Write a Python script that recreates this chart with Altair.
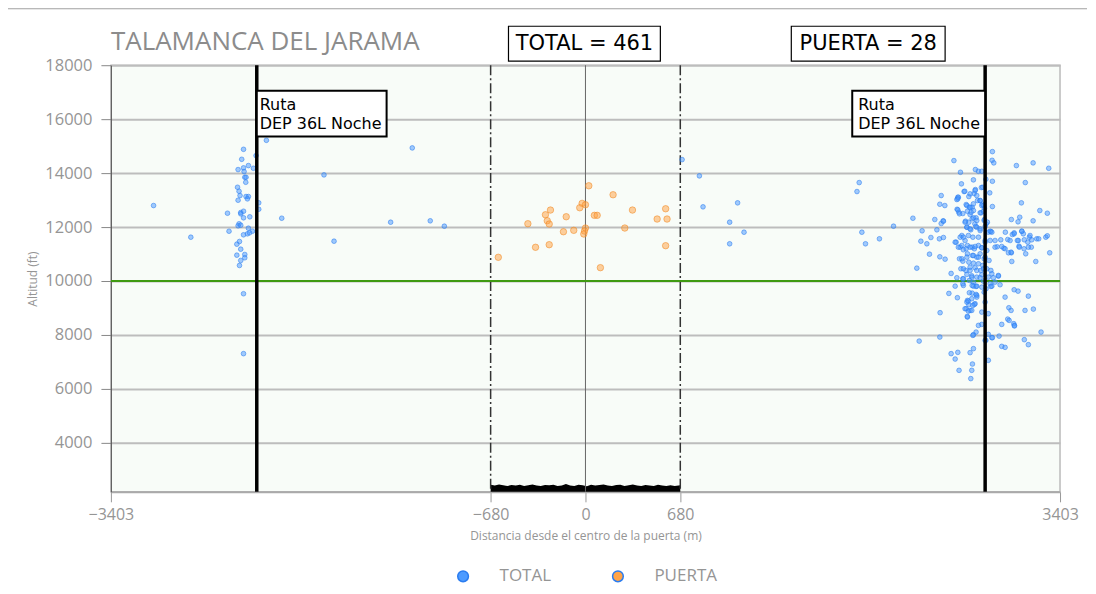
import altair as alt
import pandas as pd

# ---------------- data ----------------
TITLE = "TALAMANCA DEL JARAMA"
TOTAL_LABEL = "TOTAL = 461"
PUERTA_LABEL = "PUERTA = 28"
ROUTE_LABEL = "Ruta\nDEP 36L Noche"
X_TITLE = "Distancia desde el centro de la puerta (m)"
Y_TITLE = "Altitud (ft)"
SERIES = ["TOTAL", "PUERTA"]

x_domain = [-3403, 3403]
y_domain = [2180, 18000]
x_ticks = [-3403, -680, 0, 680, 3403]
y_ticks = [4000, 6000, 8000, 10000, 12000, 14000, 16000, 18000]

route_x = [-2357, 2866]
gate_x = [-680, 680]
center_x = [0]
level_y = [10000]

# blue "TOTAL" points (x in m, altitude in ft)
total_left = [
    (-3097, 12796), (-2830, 11622), (-2452, 14881), (-2465, 14511), (-2362, 14648), (-2288, 15215),
    (-2417, 14278), (-2381, 14178), (-2491, 14130), (-2452, 14193), (-2448, 14056), (-2443, 13844),
    (-2434, 13844), (-2436, 13659), (-2495, 13474), (-2484, 13326), (-2477, 13167), (-2434, 13130),
    (-2417, 13130), (-2491, 12993), (-2424, 13044), (-2343, 12896), (-2343, 12659), (-2567, 12511),
    (-2472, 12537), (-2452, 12585), (-2472, 12489), (-2452, 12341), (-2407, 12378), (-2178, 12326),
    (-2484, 12119), (-2491, 12044), (-2472, 12067), (-2417, 11956), (-2556, 11844), (-2388, 11844),
    (-2452, 11711), (-2424, 11748), (-2409, 11785), (-2481, 11463), (-2500, 11363), (-2472, 11178),
    (-2443, 10981), (-2500, 10956), (-2443, 10859), (-2472, 10759), (-2481, 10574), (-2452, 9526),
    (-2452, 7304), (-1875, 13933), (-1242, 14933), (-1803, 11474), (-1397, 12178), (-1113, 12230),
    (-1012, 12030),
]
total_right = [
    (693, 14500), (817, 13896), (843, 12748), (1091, 12896), (1034, 12178), (1137, 11807), (1034, 11378),
    (1963, 13648), (1947, 13315), (1982, 11807), (2008, 11378), (2108, 11563), (2209, 12030), (2348, 12326),
    (2376, 10474), (2393, 7770), (2414, 11859), (2405, 11474), (2448, 11378), (2467, 10993), (2477, 11611),
    (2505, 12278), (2520, 11896), (2543, 8822), (2541, 7919), (2538, 11563), (2567, 11611), (2541, 10896),
    (2579, 10807), (2551, 13167), (2541, 12844), (2577, 12796), (2565, 12230), (2551, 12130), (2606, 9537),
    (2622, 10278), (2651, 9807), (2622, 7304), (2651, 7104), (2670, 7352), (2679, 6685), (2642, 14463),
    (2689, 14030), (2696, 13600), (2715, 13315), (2670, 13104), (2663, 13019), (2749, 13130), (2782, 13748),
    (2796, 14130), (2818, 14067), (2842, 14067), (2871, 13770), (2918, 13696), (2918, 14796), (2916, 14474),
    (2928, 14378), (3090, 14278), (3210, 14378), (3322, 14178), (3154, 13648), (2899, 13267), (2839, 13463),
    (2796, 13389), (2787, 13241), (2811, 12981), (2830, 12981), (2846, 12844), (2753, 12733), (2730, 12833),
    (2773, 12733), (2665, 12659), (2677, 12548), (2706, 12500), (2739, 12585), (2758, 12463), (2782, 12611),
    (2837, 12526), (2854, 12796), (2918, 12759), (3126, 12896), (3258, 12611), (3312, 12511), (3210, 12230),
    (3102, 12193), (3114, 12363), (3054, 12278), (2725, 12215), (2749, 12178), (2773, 12304), (2801, 12341),
    (2792, 12119), (2859, 12241), (2873, 12119), (2735, 11993), (2763, 11896), (2806, 11993), (2830, 11870),
    (2907, 11833), (2937, 11500), (2978, 11526), (3011, 11807), (3028, 11537), (3061, 11722), (3074, 11785),
    (3104, 11500), (3129, 11844), (3140, 11748), (3172, 11437), (3183, 11622), (3236, 11563), (3250, 11563),
    (3301, 11622), (3312, 11674), (3329, 11044), (3229, 10722), (3157, 11007), (3197, 11252), (3109, 11289),
    (3054, 11044), (3033, 11044), (3057, 10722), (3000, 11215), (2952, 11267), (2937, 11252), (2902, 11500),
    (2889, 11807), (2866, 11437), (2699, 11685), (2722, 11500), (2658, 11437), (2687, 11252), (2710, 11156),
    (2739, 11315), (2773, 11252), (2789, 11193), (2818, 11315), (2842, 11230), (2878, 11130), (2739, 11007),
    (2775, 10944), (2806, 10881), (2830, 11007), (2859, 10822), (2894, 10759), (2682, 10822), (2706, 10733),
    (2749, 10696), (2782, 10659), (2818, 10637), (2849, 10574), (2907, 10389), (2692, 10452), (2728, 10389),
    (2758, 10389), (2794, 10489), (2835, 10389), (2878, 10452), (2735, 10241), (2770, 10193), (2806, 10141),
    (2842, 10230), (2889, 10141), (2925, 10119), (2961, 10178), (2706, 10081), (2753, 10019), (2782, 9956),
    (2854, 9993), (2902, 9896), (2937, 9956), (2973, 9859), (2801, 9796), (2773, 9548), (2806, 9463),
    (2739, 9278), (2770, 9341), (2794, 9156), (2749, 9119), (2730, 8970), (2758, 8907), (2739, 8659),
    (2667, 9378), (2842, 8844), (2889, 8785), (3009, 9400), (3074, 9674), (3102, 9622), (3176, 9437),
    (3036, 9007), (3052, 8907), (3152, 8907), (3212, 8956), (2985, 8389), (3028, 8585), (3038, 8537),
    (3071, 8415), (3076, 8352), (3267, 8104), (2801, 8104), (2782, 8007), (2842, 8389), (2889, 8019),
    (2914, 7896), (2871, 7796), (2966, 7956), (3147, 7822), (3176, 7637), (2985, 7574), (3009, 7537),
    (2758, 7341), (2782, 7489), (2889, 7056), (2775, 6919), (2770, 6685), (2763, 6378),
]
total_core = [
    (2849, 13474), (2720, 13326), (2794, 13352), (2758, 13230), (2674, 13104), (2670, 13044), (2806, 13167),
    (2830, 12981), (2735, 12796), (2758, 12733), (2782, 12859), (2842, 12796), (2861, 12696), (2670, 12637),
    (2682, 12489), (2765, 12548), (2830, 12526), (2854, 12585), (2567, 12215), (2722, 12178), (2782, 12341),
    (2806, 12241), (2861, 12278), (2882, 12178), (2735, 11993), (2758, 11933), (2799, 12019), (2830, 11933),
    (2866, 12019), (2902, 11844), (2914, 11807), (3074, 11748), (3129, 11844), (3188, 11685), (2651, 11437),
    (2687, 11622), (2710, 11622), (2746, 11685), (2778, 11622), (2818, 11622), (2866, 11500), (3045, 11500),
    (3097, 11500), (3147, 11526), (3200, 11526), (2674, 11252), (2699, 11315), (2730, 11193), (2758, 11252),
    (2794, 11278), (2842, 11230), (2985, 11278), (3009, 11193), (3052, 11067), (3111, 11252), (3145, 11193),
    (3176, 11252), (2699, 10822), (2735, 10881), (2782, 10944), (2818, 10881), (2866, 10881), (2710, 10452),
    (2758, 10511), (2806, 10389), (2854, 10452), (2914, 10267), (2961, 10204), (2663, 10119), (2710, 10081),
    (2770, 10141), (2830, 10119), (2710, 9833), (2782, 9807), (2842, 9770), (2914, 9807),
    (2706, 9896), (2773, 9833), (2806, 9807), (2907, 9796), (2753, 9563), (2801, 9500), (2806, 9400),
    (2746, 9252), (2735, 9215), (2789, 9130), (2778, 9093), (2722, 8970), (2746, 8881), (2770, 8907),
    (2738, 8685), (2866, 9215), (2859, 9585), (2873, 9711), (3076, 8330), (2818, 8352), (2778, 7981),
    (2918, 7896), (2866, 7796),
]

# orange "PUERTA" points
puerta_pts = [
    (24, 13529), (198, 13196), (-24, 12877), (0, 12826), (-41, 12714), (-251, 12629), (337, 12629),
    (575, 12677), (-287, 12455), (-138, 12381), (64, 12433), (84, 12433), (514, 12296), (585, 12296),
    (-274, 12233), (-413, 12122), (-260, 12111), (0, 11962), (282, 11962), (-7, 11851), (-84, 11877),
    (-158, 11825), (-12, 11740), (-260, 11344), (-358, 11248), (575, 11307), (-625, 10877), (107, 10492),
]

# black ground band between the gate limits
band_x = [-680, -650, -620, -590, -560, -530, -500, -470, -440, -410, -380, -350, -320, -290, -260,
          -230, -200, -170, -140, -110, -80, -50, -20, 10, 40, 70, 100, 130, 160, 190, 220, 250,
          280, 310, 340, 370, 400, 430, 460, 490, 520, 550, 580, 610, 640, 680]
band_top = [2440, 2410, 2450, 2420, 2400, 2430, 2410, 2440, 2400, 2420, 2450, 2410, 2400, 2430, 2420,
            2440, 2400, 2410, 2470, 2410, 2400, 2440, 2420, 2390, 2440, 2410, 2430, 2450, 2410, 2400,
            2430, 2440, 2400, 2420, 2450, 2410, 2400, 2430, 2410, 2400, 2440, 2410, 2400, 2420, 2400, 2420]

# annotation boxes (data units)
ann_x = [-2357, 1913]
ann_x2 = [-1426, 2866]
ann_y = [15352, 15352]
ann_y2 = [17056, 17056]
ann_text_x = [-2336, 1956]
ann_text_y = [16352, 16352]

# header boxes (x in data units)
head_x = [-552, 1476]
head_x2 = [537, 2579]
head_cx = [-7, 2028]
head_text = [TOTAL_LABEL, PUERTA_LABEL]

# ---------------- styling ----------------
BLUE = "#4596ff"
BLUE_EDGE = "#2a7cf0"
ORANGE = "#ffa040"
ORANGE_EDGE = "#f08a25"
GRAY_TXT = "#959595"
FONT = "Open Sans"

xs = alt.Scale(domain=x_domain, nice=False, zero=False)
ys = alt.Scale(domain=y_domain, nice=False, zero=False)

ax_x = alt.Axis(values=x_ticks, title=X_TITLE, grid=False, format="d", labelFlush=False,
                tickSize=10, tickColor="#999999", domainColor="#aaaaaa", domainWidth=2,
                labelFont=FONT, labelFontSize=16, labelColor=GRAY_TXT, labelPadding=5,
                titleFont=FONT, titleFontSize=12, titleColor=GRAY_TXT, titleFontWeight="normal",
                titlePadding=8)
ax_y = alt.Axis(values=y_ticks, title=Y_TITLE, grid=True, gridColor="#bdbdbd", gridWidth=2,
                format="d", tickSize=10, tickColor="#888888", domainColor="#555555", domainWidth=1,
                labelFont=FONT, labelFontSize=16.5, labelColor=GRAY_TXT, labelPadding=9,
                titleFont=FONT, titleFontSize=12, titleColor=GRAY_TXT, titleFontWeight="normal",
                titlePadding=5)

def X(field):
    return alt.X(field, type="quantitative", scale=xs, axis=ax_x)

def Y(field):
    return alt.Y(field, type="quantitative", scale=ys, axis=ax_y)

color_enc = alt.Color(
    "serie:N",
    scale=alt.Scale(domain=SERIES, range=["#4d9bff", "#ffa448"]),
    legend=alt.Legend(orient="none", legendX=344, legendY=503, direction="horizontal",
                      title=None, labelFont=FONT, labelFontSize=17, labelColor=GRAY_TXT,
                      symbolType="circle", symbolSize=115, symbolOpacity=1,
                      symbolStrokeWidth=1.5, labelOffset=28, columnPadding=58, padding=0))

# ---------------- tables ----------------
blue_df = pd.DataFrame([{"x": x, "y": y, "serie": SERIES[0]}
                        for (x, y) in total_left + total_right + total_core])
orange_df = pd.DataFrame([{"x": x, "y": y, "serie": SERIES[1]} for (x, y) in puerta_pts])

band_df = pd.DataFrame({"x": band_x, "y": band_top, "floor": [y_domain[0]] * len(band_x)})
route_df = pd.DataFrame({"x": route_x})
gate_df = pd.DataFrame({"x": gate_x})
center_df = pd.DataFrame({"x": center_x})
level_df = pd.DataFrame({"y": level_y})
ann_df = pd.DataFrame({"x": ann_x, "x2": ann_x2, "y": ann_y, "y2": ann_y2,
                       "tx": ann_text_x, "ty": ann_text_y, "t": [ROUTE_LABEL, ROUTE_LABEL]})
head_df = pd.DataFrame({"x": head_x, "x2": head_x2, "cx": head_cx, "t": head_text})
title_df = pd.DataFrame({"t": [TITLE]})

# ---------------- layers ----------------
# page frame: top edge only
frame_top = alt.Chart(title_df).mark_rect(color="#a0a0a0", strokeWidth=0).encode(
    x=alt.value(-103), x2=alt.value(977), y=alt.value(-57), y2=alt.value(-56))

band = alt.Chart(band_df).mark_area(color="black", interpolate="linear").encode(
    x=X("x"), y=Y("y"), y2="floor:Q")

center = alt.Chart(center_df).mark_rule(color="#666666", strokeWidth=1).encode(x=X("x"))
gates = alt.Chart(gate_df).mark_rule(color="#333333", strokeWidth=1.5,
                                     strokeDash=[10, 3, 2, 3]).encode(x=X("x"))
level = alt.Chart(level_df).mark_rule(color="#3f9a12", strokeWidth=2).encode(y=Y("y"))

blue_pts = alt.Chart(blue_df).mark_circle(size=22, fill=BLUE, stroke=BLUE_EDGE, fillOpacity=0.5,
                                          strokeOpacity=0.55, strokeWidth=1).encode(
    x=X("x"), y=Y("y"), color=color_enc)
orange_pts = alt.Chart(orange_df).mark_circle(size=42, fill=ORANGE, stroke=ORANGE_EDGE, fillOpacity=0.5,
                                              strokeOpacity=0.55, strokeWidth=1).encode(
    x=X("x"), y=Y("y"), color=color_enc)

routes = alt.Chart(route_df).mark_rule(color="black", strokeWidth=3.5).encode(x=X("x"))

ann_box = alt.Chart(ann_df).mark_rect(fill="white", stroke="black", strokeWidth=2).encode(
    x=X("x"), x2="x2:Q", y=Y("y"), y2="y2:Q")
ann_txt = alt.Chart(ann_df).mark_text(font="DejaVu Sans", fontSize=16, align="left",
                                      baseline="alphabetic", lineBreak="\n", lineHeight=19,
                                      color="black").encode(
    x=X("tx"), y=Y("ty"), text="t:N")

head_box = alt.Chart(head_df).mark_rect(fill="white", stroke="black", strokeWidth=1.2).encode(
    x=X("x"), x2="x2:Q", y=alt.value(-39), y2=alt.value(-4))
head_txt = alt.Chart(head_df).mark_text(font="DejaVu Sans", fontSize=21, align="center",
                                        baseline="middle", color="black").encode(
    x=X("cx"), y=alt.value(-21), text="t:N")

title = alt.Chart(title_df).mark_text(font=FONT, fontSize=26, align="left", baseline="alphabetic",
                                      color="#8c8c8c").encode(
    x=alt.value(0), y=alt.value(-15), text="t:N")

chart = alt.layer(
    frame_top, band, center, gates, level, blue_pts, orange_pts, routes,
    ann_box, ann_txt, head_box, head_txt, title
).properties(
    width=950, height=427,
    autosize=alt.AutoSizeParams(type="none"),
    padding={"left": 103, "top": 57, "right": 28, "bottom": 95},
    background="white",
).configure_view(
    fill="#f8fcf8", stroke="#bbbbbb", strokeWidth=1.5
)

chart.save("out.html", embed_options={"renderer": "svg", "actions": False})
